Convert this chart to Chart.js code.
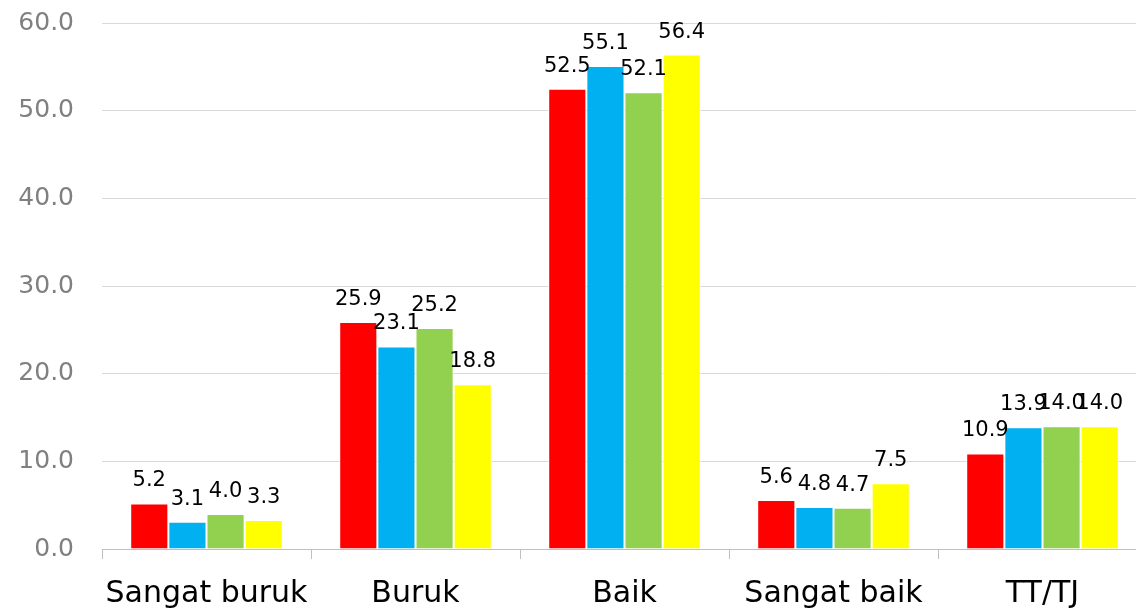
<!DOCTYPE html>
<html>
<head>
<meta charset="utf-8">
<script src="https://cdn.jsdelivr.net/npm/chart.js@4/dist/chart.umd.min.js"></script>
<style>
  html, body { margin: 0; padding: 0; background: #fff; overflow: hidden; }
  #wrap { width: 1147px; height: 609px; }
</style>
</head>
<body>
<div id="wrap"><canvas id="myChart"></canvas></div>
<script>
// categorie (asse x)
const categories = ['Sangat buruk', 'Buruk', 'Baik', 'Sangat baik', 'TT/TJ'];
// valori delle serie
const seri1 = [5.2, 25.9, 52.5, 5.6, 10.9];
const seri2 = [3.1, 23.1, 55.1, 4.8, 13.9];
const seri3 = [4.0, 25.2, 52.1, 4.7, 14.0];
const seri4 = [3.3, 18.8, 56.4, 7.5, 14.0];
const colors = ['#FF0000', '#00B0F0', '#92D050', '#FFFF00'];

const FONT = "'DejaVu Sans', sans-serif";

// etichette sopra le barre
const barLabels = {
	id: 'barLabels',
	afterDatasetsDraw(chart) {
		const c = chart.ctx;
		c.save();
		c.font = '21px ' + FONT;
		c.fillStyle = '#000';
		c.textAlign = 'center';
		c.textBaseline = 'alphabetic';
		chart.data.datasets.forEach((ds, i) => {
			chart.getDatasetMeta(i).data.forEach((bar, j) => {
				c.fillText(ds.data[j].toFixed(1), bar.x, bar.y - 17);
			});
		});
		c.restore();
	}
};

const ctx = document.getElementById('myChart');
new Chart(ctx, {
	type: 'bar',
	data: {
		labels: categories,
		datasets: [seri1, seri2, seri3, seri4].map((d, i) => ({
			label: 'Seri ' + (i + 1),
			data: d,
			backgroundColor: colors[i],
			borderColor: '#FFFFFF',
			borderWidth: 1,
			barPercentage: 1,
			categoryPercentage: 0.73
		}))
	},
	options: {
		responsive: true,
		maintainAspectRatio: false,
		animation: false,
		layout: { autoPadding: false, padding: { top: 23, right: 0, left: 0, bottom: 0 } },
		plugins: {
			legend: { display: false },
			tooltip: { enabled: false }
		},
		scales: {
			x: {
				grid: {
					offset: true,
					drawOnChartArea: false,
					color: '#BFBFBF',
					tickLength: 10
				},
				border: { color: '#BFBFBF' },
				ticks: {
					color: '#000',
					font: { family: FONT, size: 30 },
					padding: 17,
					maxRotation: 0
				},
				afterFit(scale) { scale.height = 60; scale.paddingLeft = 0; scale.paddingRight = 0; }
			},
			y: {
				min: 0,
				max: 60,
				ticks: {
					stepSize: 10,
					color: '#808080',
					font: { family: FONT, size: 25 },
					padding: 28,
					callback: (v) => v.toFixed(1)
				},
				grid: { color: '#D9D9D9', drawTicks: false },
				border: { display: false },
				afterFit(scale) { scale.width = 102; scale.paddingTop = 0; scale.paddingBottom = 0; }
			}
		}
	},
	plugins: [barLabels]
});
</script>
</body>
</html>
